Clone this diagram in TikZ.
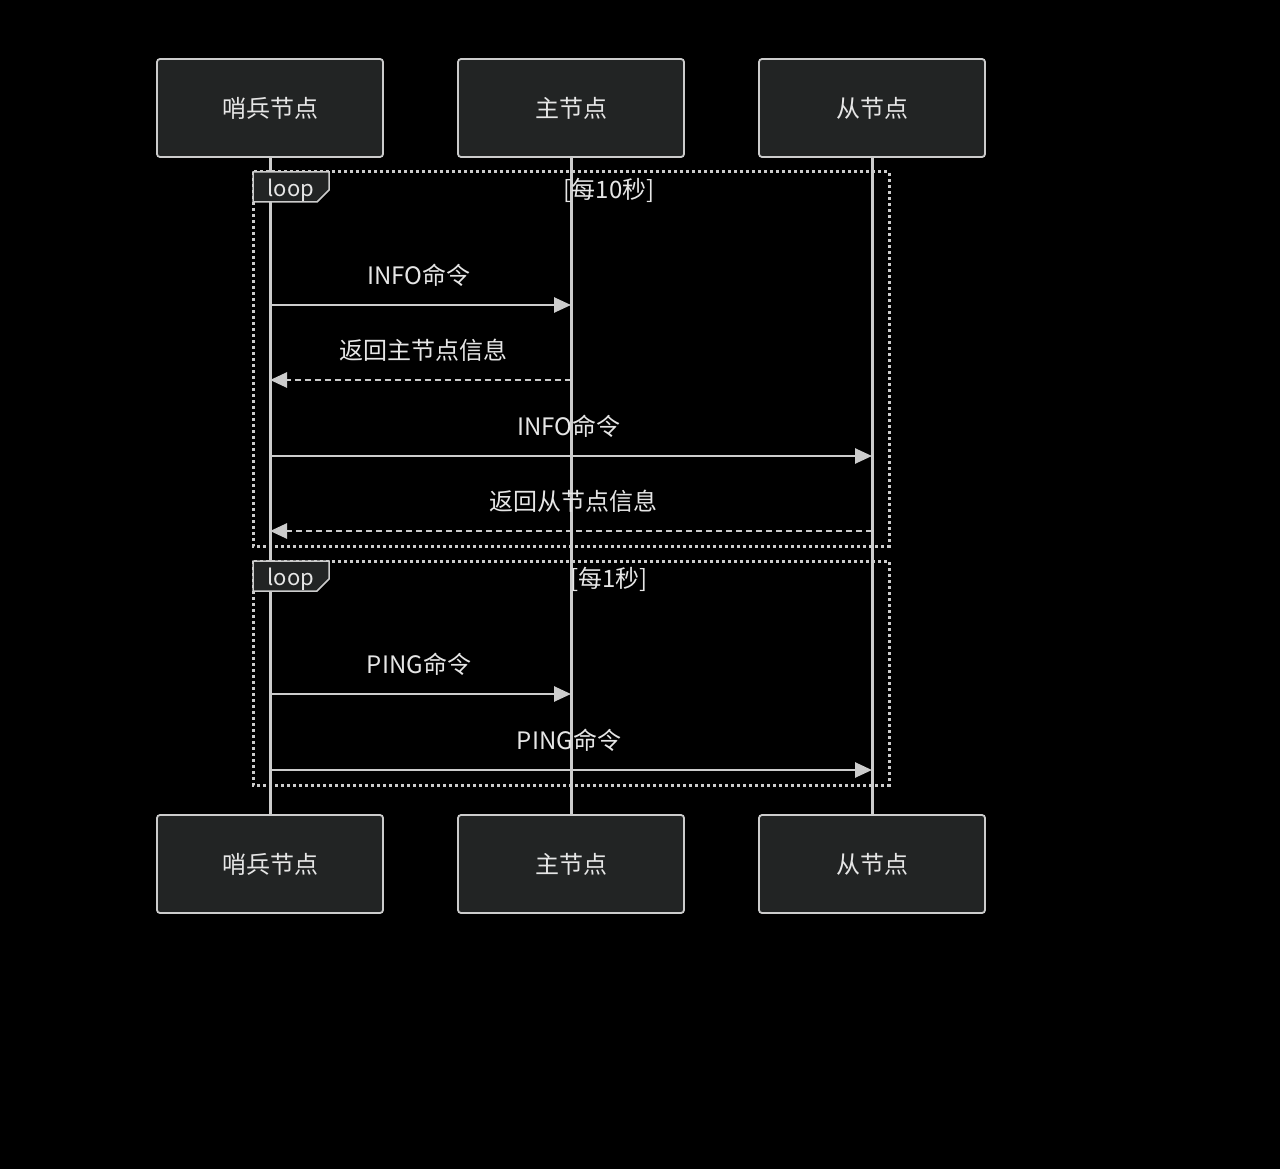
\documentclass[tikz,border=0pt]{standalone}
\usepackage{fontspec}
\setmainfont{Noto Sans CJK SC}
\usetikzlibrary{arrows.meta}
\definecolor{boxfill}{RGB}{34,36,36}
\definecolor{linec}{RGB}{204,204,204}
\definecolor{txt}{RGB}{230,230,230}
\tikzset{
  actor/.style={draw=linec, line width=1.8pt, fill=boxfill, rounded corners=3pt, minimum width=226pt, minimum height=98pt, text=txt, font=\fontsize{24}{28}\selectfont, inner sep=0pt},
  life/.style={draw=linec, line width=3pt},
  msg/.style={draw=linec, line width=2.6pt, -{Triangle[length=17pt,width=15pt]}},
  ret/.style={msg, dash pattern=on 6pt off 4pt},
  mlabel/.style={text=txt, font=\fontsize{24}{28}\selectfont, inner sep=0pt},
  loopframe/.style={draw=linec, line width=3pt, dash pattern=on 3pt off 3pt},
  looptag/.style={draw=linec, line width=1.5pt, fill=boxfill},
  looptxt/.style={text=txt, font=\fontsize{22}{26}\selectfont, inner sep=0pt},
}
\begin{document}
\begin{tikzpicture}[x=1pt,y=-1pt]
\useasboundingbox[fill=black] (0,0) rectangle (1280,1169);
% lifelines
\coordinate (s1) at (270,157); \coordinate (s2) at (270,815);
\coordinate (m1) at (571,157); \coordinate (m2) at (571,815);
\coordinate (r1) at (872,157); \coordinate (r2) at (872,815);
\draw[life] (s1) -- (s2);
\draw[life] (m1) -- (m2);
\draw[life] (r1) -- (r2);
% actors
\node[actor] (st) at (270,108) {哨兵节点};
\node[actor] (mt) at (571,108) {主节点};
\node[actor] (rt) at (872,108) {从节点};
\node[actor] (sb) at (270,864) {哨兵节点};
\node[actor] (mb) at (571,864) {主节点};
\node[actor] (rb) at (872,864) {从节点};
% loop 1
\draw[loopframe] (253,172) rectangle (889,546);
\draw[looptag] (253,172) -- (329,172) -- (329,190) -- (317,202) -- (253,202) -- cycle;
\node[looptxt] (l1) at (291,190) {loop};
\node[mlabel] (c1) at (609,190) {[每10秒]};
% loop 2
\draw[loopframe] (253,561) rectangle (889,785);
\draw[looptag] (253,561) -- (329,561) -- (329,579) -- (317,591) -- (253,591) -- cycle;
\node[looptxt] (l2) at (291,579) {loop};
\node[mlabel] (c2) at (609,579) {[每1秒]};
% messages
\coordinate (a1s) at (270,305); \coordinate (a1e) at (571,305);
\coordinate (a2s) at (571,380); \coordinate (a2e) at (270,380);
\coordinate (a3s) at (270,456); \coordinate (a3e) at (872,456);
\coordinate (a4s) at (872,531); \coordinate (a4e) at (270,531);
\coordinate (a5s) at (270,694); \coordinate (a5e) at (571,694);
\coordinate (a6s) at (270,770); \coordinate (a6e) at (872,770);
\draw[msg] (a1s) -- (a1e);
\draw[ret] (a2s) -- (a2e);
\draw[msg] (a3s) -- (a3e);
\draw[ret] (a4s) -- (a4e);
\draw[msg] (a5s) -- (a5e);
\draw[msg] (a6s) -- (a6e);
\node[mlabel] (t1) at (419,275) {INFO命令};
\node[mlabel] (t2) at (423,350) {返回主节点信息};
\node[mlabel] (t3) at (569,426) {INFO命令};
\node[mlabel] (t4) at (573,501) {返回从节点信息};
\node[mlabel] (t5) at (419,664) {PING命令};
\node[mlabel] (t6) at (569,740) {PING命令};
\end{tikzpicture}
\end{document}
